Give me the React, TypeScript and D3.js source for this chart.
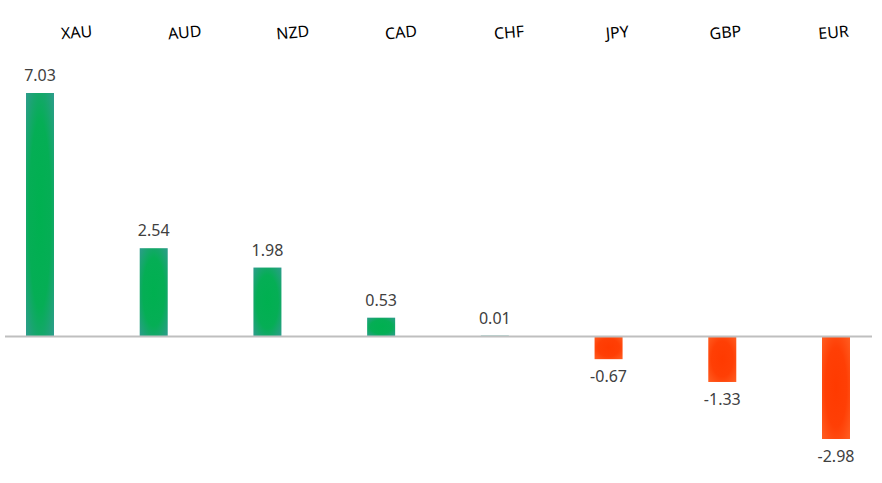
import React from "react";
import * as d3 from "d3";

const categories = ["XAU", "AUD", "NZD", "CAD", "CHF", "JPY", "GBP", "EUR"];
const values = [7.03, 2.54, 1.98, 0.53, 0.01, -0.67, -1.33, -2.98];
const valueLabels = ["7.03", "2.54", "1.98", "0.53", "0.01", "-0.67", "-1.33", "-2.98"];

const W = 882;
const H = 483;

export default function App() {
  const x = d3.scalePoint<string>().domain(categories).range([40, 836]);
  const xLabel = d3.scalePoint<string>().domain(categories).range([77, 834]);
  const y = d3.scaleLinear().domain([0, 7.03]).range([336, 93]);
  const barW = 28;
  const font = "'Noto Sans', sans-serif";

  return (
    <svg
      width={W}
      height={H}
      style={{ position: "absolute", left: 0, top: 0, background: "#fff" }}
    >
      <defs>
        <radialGradient id="gpos" cx="50%" cy="50%" r="70%">
          <stop offset="0%" stopColor="#00B050" />
          <stop offset="55%" stopColor="#05AE55" />
          <stop offset="100%" stopColor="#2E9C8C" />
        </radialGradient>
        <radialGradient id="gneg" cx="50%" cy="50%" r="70%">
          <stop offset="0%" stopColor="#FF3A00" />
          <stop offset="55%" stopColor="#FF3F05" />
          <stop offset="100%" stopColor="#FF5E22" />
        </radialGradient>
      </defs>
      {categories.map((c, i) => {
        const v = values[i];
        const y0 = y(0);
        const yv = y(v);
        const top = Math.min(y0, yv);
        const h = Math.abs(yv - y0);
        return (
          <rect
            key={c}
            x={(x(c) as number) - barW / 2}
            y={top}
            width={barW}
            height={h}
            fill={v >= 0 ? "url(#gpos)" : "url(#gneg)"}
          />
        );
      })}
      <line x1={5} x2={872} y1={y(0) + 0.5} y2={y(0) + 0.5} stroke="#BFBFBF" strokeWidth={2} />
      {categories.map((c, i) => {
        const v = values[i];
        const ty = v >= 0 ? y(v) - 12 : y(v) + 23;
        return (
          <text
            key={c + "v"}
            x={x(c) as number}
            y={ty}
            textAnchor="middle"
            fontFamily={font}
            fontSize={16}
            fill="#404040"
          >
            {valueLabels[i]}
          </text>
        );
      })}
      {categories.map((c) => (
        <text
          key={c + "l"}
          transform={`translate(${xLabel(c)},38) rotate(-5)`}
          textAnchor="middle"
          fontFamily={font}
          fontSize={16}
          fill="#000"
        >
          {c}
        </text>
      ))}
    </svg>
  );
}
